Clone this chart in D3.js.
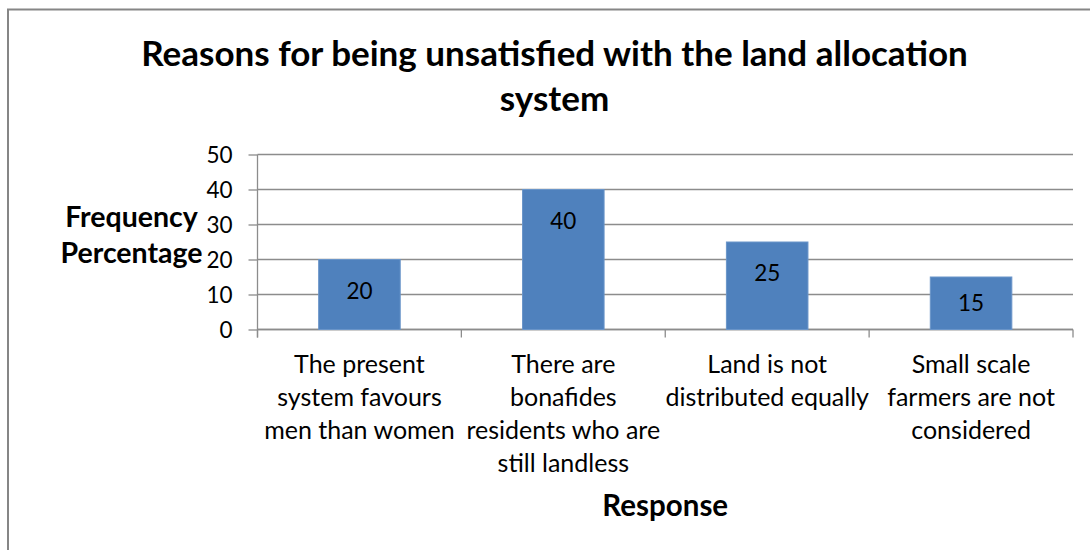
<!DOCTYPE html>
<html>
<head>
<meta charset="utf-8">
<script src="https://cdn.jsdelivr.net/npm/d3@7"></script>
<style>
  body { margin: 0; background: #fff; }
  svg { display: block; }
  text { font-family: Lato, "Open Sans", sans-serif; fill: #000; }
</style>
</head>
<body>
<svg id="chart" width="1090" height="550"></svg>
<script>
// Survey responses: reasons for dissatisfaction with land allocation
const categories = [
  "The present\nsystem favours\nmen than women",
  "There are\nbonafides\nresidents who are\nstill landless",
  "Land is not\ndistributed equally",
  "Small scale\nfarmers are not\nconsidered"
];
const values = [20, 40, 25, 15];
const yTicks = [0, 10, 20, 30, 40, 50];
const titleLines = ["Reasons for being unsatisfied with the land allocation", "system"];
const yTitleLines = ["Frequency", "Percentage"];
const xTitle = "Response";

const svg = d3.select("#chart");
const plot = { left: 257.5, right: 1073, top: 154.5, bottom: 329.5 };
const gridColor = "#8c8c8c";

// outer chart frame (clipped on the right and bottom edges)
svg.append("path")
  .attr("d", "M8,560 V9.5 H1100")
  .attr("fill", "none")
  .attr("stroke", "#868686")
  .attr("stroke-width", 2);

const x = d3.scaleBand()
  .domain(categories)
  .range([plot.left, plot.right])
  .paddingInner(0.6)
  .paddingOuter(0.3);

const y = d3.scaleLinear()
  .domain([0, 50])
  .range([plot.bottom, plot.top]);

// horizontal gridlines
svg.append("g")
  .selectAll("line")
  .data(yTicks)
  .join("line")
  .attr("x1", plot.left)
  .attr("x2", plot.right)
  .attr("y1", d => y(d))
  .attr("y2", d => y(d))
  .attr("stroke", gridColor)
  .attr("stroke-width", 1.3);

// y axis
const yAxis = d3.axisLeft(y)
  .tickValues(yTicks)
  .tickSize(9)
  .tickPadding(16)
  .tickFormat(d3.format("d"));
const gy = svg.append("g")
  .attr("transform", `translate(${plot.left},0)`)
  .call(yAxis);
gy.select(".domain").remove();
gy.selectAll(".tick line").attr("stroke", gridColor).attr("stroke-width", 1.3);
gy.selectAll(".tick text")
  .attr("font-size", 22.5)
  .attr("font-family", "Lato, 'Open Sans', sans-serif")
  .attr("fill", "#000")
  .attr("dy", "0.36em");
svg.append("line")
  .attr("x1", plot.left).attr("x2", plot.left)
  .attr("y1", plot.top).attr("y2", plot.bottom + 8)
  .attr("stroke", gridColor).attr("stroke-width", 1.3);

// x axis with tick marks at category boundaries
const boundaries = d3.range(categories.length + 1).map(i => plot.left + i * (plot.right - plot.left) / categories.length);
svg.append("line")
  .attr("x1", plot.left).attr("x2", plot.right)
  .attr("y1", plot.bottom).attr("y2", plot.bottom)
  .attr("stroke", gridColor).attr("stroke-width", 1.3);
svg.append("g")
  .selectAll("line")
  .data(boundaries)
  .join("line")
  .attr("x1", d => d).attr("x2", d => d)
  .attr("y1", plot.bottom).attr("y2", plot.bottom + 8)
  .attr("stroke", gridColor).attr("stroke-width", 1.3);

// bars
svg.append("g")
  .selectAll("rect")
  .data(values)
  .join("rect")
  .attr("x", (d, i) => x(categories[i]))
  .attr("width", x.bandwidth())
  .attr("y", d => y(d))
  .attr("height", d => y(0) - y(d))
  .attr("fill", "#4f81bd")
  .attr("stroke", "#6a95c9")
  .attr("stroke-width", 1);

// value labels inside the top of each bar
svg.append("g")
  .selectAll("text")
  .data(values)
  .join("text")
  .attr("x", (d, i) => x(categories[i]) + x.bandwidth() / 2)
  .attr("y", d => Math.min(y(d) + 39, (y(d) + y(0)) / 2 + 8))
  .attr("text-anchor", "middle")
  .attr("font-size", 22.5)
  .text(d => d);

// category labels, wrapped on several lines
const catG = svg.append("g")
  .selectAll("text")
  .data(categories)
  .join("text")
  .attr("text-anchor", "middle")
  .attr("font-size", 25)
  .attr("transform", d => `translate(${x(d) + x.bandwidth() / 2},372.5)`);
catG.selectAll("tspan")
  .data(d => d.split("\n"))
  .join("tspan")
  .attr("x", 0)
  .attr("y", (d, i) => i * 33)
  .text(d => d);

// chart title
svg.append("text")
  .attr("text-anchor", "middle")
  .attr("font-size", 35)
  .attr("font-weight", "bold")
  .attr("transform", "translate(554.5,66)")
  .selectAll("tspan")
  .data(titleLines)
  .join("tspan")
  .attr("x", 0)
  .attr("y", (d, i) => i * 45)
  .text(d => d);

// y axis title
svg.append("text")
  .attr("text-anchor", "middle")
  .attr("font-size", 28.5)
  .attr("font-weight", "bold")
  .attr("transform", "translate(131.5,227)")
  .selectAll("tspan")
  .data(yTitleLines)
  .join("tspan")
  .attr("x", 0)
  .attr("y", (d, i) => i * 36)
  .text(d => d);

// x axis title
svg.append("text")
  .attr("x", (plot.left + plot.right) / 2)
  .attr("y", 516)
  .attr("text-anchor", "middle")
  .attr("font-size", 29.5)
  .attr("font-weight", "bold")
  .text(xTitle);
</script>
</body>
</html>
